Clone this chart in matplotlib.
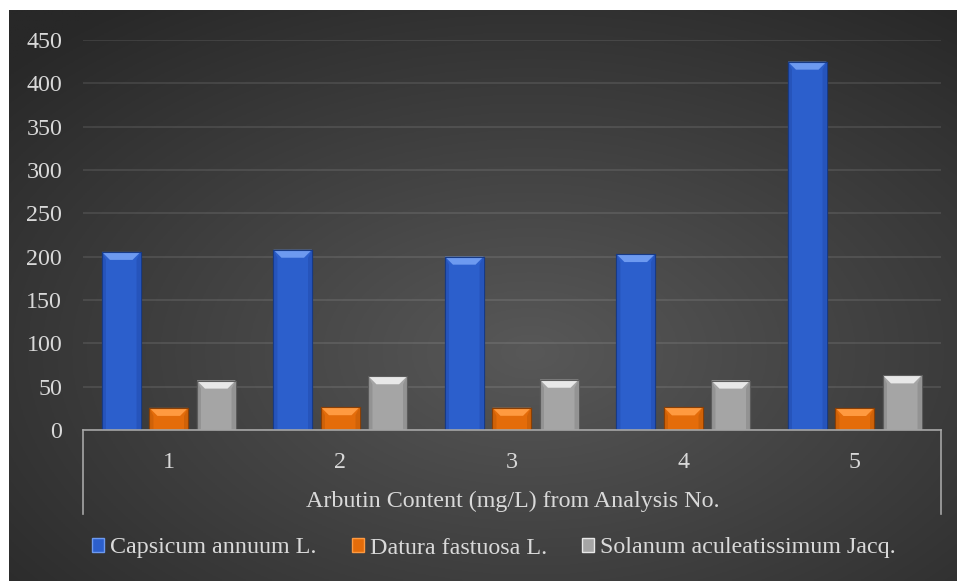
import numpy as np
import matplotlib
matplotlib.use("Agg")
import matplotlib.pyplot as plt
from matplotlib.patches import Polygon, Rectangle
from matplotlib.lines import Line2D

plt.rcParams['font.family'] = ['Liberation Serif', 'DejaVu Serif']

categories = ['1', '2', '3', '4', '5']
series_names = ['Capsicum annuum L.', 'Datura fastuosa L.', 'Solanum aculeatissimum Jacq.']
capsicum = [205.5, 208, 200, 203, 425]
datura = [25.5, 26.3, 25.6, 26.1, 25.4]
solanum = [57, 62, 58, 57, 63]
y_ticks = [0, 50, 100, 150, 200, 250, 300, 350, 400, 450]
x_title = 'Arbutin Content (mg/L) from Analysis No.'

face = ['#2c5fcc', '#e46c0a', '#a5a5a5']
light = ['#6d9af0', '#ff9a40', '#e8e8e8']
side = ['#2654bb', '#d06208', '#939393']
edge = ['#173a85', '#8a3f05', '#5c5c5c']
text_col = '#d9d9d9'
fs = 17.3

W, H = 957, 581
fig = plt.figure(figsize=(W / 100, H / 100), dpi=100)
fig.patch.set_facecolor('white')

# radial gradient background
bg = fig.add_axes([9 / W, 0, 1 - 9 / W, 1 - 10 / H])
bg.set_axis_off()
gx, gy = np.meshgrid(np.linspace(0, 1, 400), np.linspace(0, 1, 250))
r = np.sqrt(((gx - 0.55) / 0.75) ** 2 + ((gy - 0.6) / 0.75) ** 2)
r = np.clip(r, 0, 1)
c0, c1 = np.array([0x58, 0x58, 0x58]) / 255, np.array([0x28, 0x28, 0x28]) / 255
img = c0[None, None, :] * (1 - r[..., None]) + c1[None, None, :] * r[..., None]
bg.imshow(img, aspect='auto', extent=[0, 1, 0, 1], origin='upper')
bg.set_xlim(0, 1)
bg.set_ylim(0, 1)

left, right = 83 / W, 940.5 / W
bottom, top = 1 - 430 / H, 1 - 40 / H
ax = fig.add_axes([left, bottom, right - left, top - bottom])
ax.set_facecolor('none')

x = np.arange(len(categories))
width = 0.225
step = 0.277
ax.set_xlim(-0.5, len(categories) - 0.5)
ax.set_ylim(0, 450)

ax_w_px = (right - left) * W
ax_h_px = (top - bottom) * H
bx = 8 / ax_w_px * len(categories)
by = 8 / ax_h_px * 450
sx = 4 / ax_w_px * len(categories)

for i, vals in enumerate([capsicum, datura, solanum]):
    pos = x + (i - 1) * step
    ax.bar(pos, vals, width, color=face[i], edgecolor=edge[i], linewidth=0.8, zorder=3,
           label=series_names[i])
    for p, v in zip(pos, vals):
        x0, x1 = p - width / 2, p + width / 2
        ax.add_patch(Polygon([(x0, 0), (x0 + sx, 0), (x0 + sx, v - by), (x0, v)],
                             closed=True, facecolor=side[i], edgecolor='none', zorder=4))
        ax.add_patch(Polygon([(x1, 0), (x1 - sx, 0), (x1 - sx, v - by), (x1, v)],
                             closed=True, facecolor=side[i], edgecolor='none', zorder=4))
        ax.add_patch(Polygon([(x0, v), (x1, v), (x1 - bx, v - by), (x0 + bx, v - by)],
                             closed=True, facecolor=light[i], edgecolor='none', zorder=4))
        ax.add_patch(Rectangle((x0, 0), width, v, facecolor='none', edgecolor=edge[i],
                               linewidth=0.8, zorder=5))

ax.set_yticks(y_ticks)
ax.yaxis.grid(True, color='white', alpha=0.1, linewidth=1.3, zorder=0)
ax.set_axisbelow(True)
ax.set_xticks(x)
ax.set_xticklabels(categories)
ax.tick_params(axis='y', length=0, pad=15, labelsize=fs, labelcolor=text_col)
ax.tick_params(axis='x', length=0, pad=16, labelsize=fs, labelcolor=text_col)
for s in ['top', 'right', 'left']:
    ax.spines[s].set_visible(False)
ax.spines['bottom'].set_color('#a6a6a6')
ax.spines['bottom'].set_linewidth(1.2)
ax.spines['bottom'].set_zorder(6)

box_depth = (514 - 430) / ax_h_px
for xa in [0, 1]:
    ax.add_line(Line2D([xa, xa], [0, -box_depth], transform=ax.transAxes, color='#a6a6a6',
                       linewidth=1.2, clip_on=False))

fig.text((left + right) / 2 + 0.001, 1 - 501 / H, x_title, ha='center', va='center',
         fontsize=fs, color=text_col)

handles = [Rectangle((0, 0), 1, 1, facecolor=face[i], edgecolor=light[i], linewidth=1.0)
           for i in range(3)]
fig.legend(handles, series_names, loc='center', bbox_to_anchor=(494 / W, 1 - 548 / H), ncol=3,
           frameon=False, fontsize=fs, labelcolor=text_col, handlelength=0.5, handleheight=0.5,
           handletextpad=0.25, columnspacing=1.45)

fig.savefig('out.png', dpi=100)
